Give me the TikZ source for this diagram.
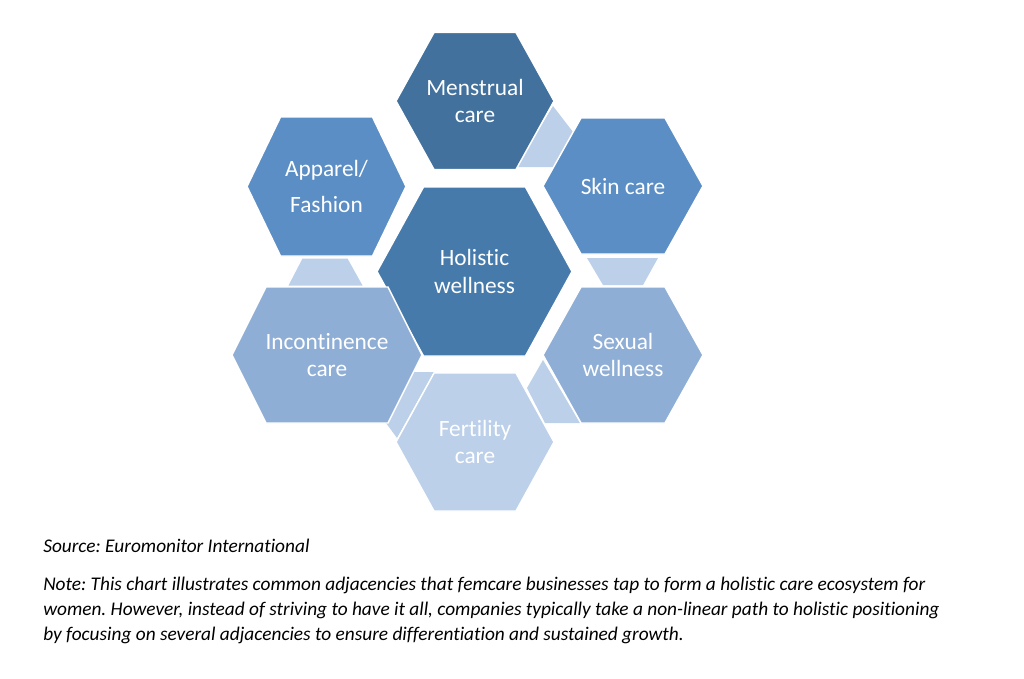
\documentclass[tikz,border=0pt]{standalone}
\usepackage{fontspec}
\setmainfont{Carlito}[Ligatures=NoCommon]
\usepackage{tikz}
\usetikzlibrary{calc,backgrounds}
\frenchspacing
\definecolor{hexdark}{HTML}{41719C}
\definecolor{hexmid}{HTML}{467AAB}
\definecolor{hexblue}{HTML}{5B8EC4}
\definecolor{hexsoft}{HTML}{8EAED6}
\definecolor{hexpale}{HTML}{BCD0EA}
\newcommand{\hexcell}[8]{%
  \fill[#7, draw=white, line width=1.1pt] (#2-#4,#3) -- (#2-#5,#3-#6) -- (#2+#5,#3-#6)
    -- (#2+#4,#3) -- (#2+#5,#3+#6) -- (#2-#5,#3+#6) -- cycle;
  \node[lbl] (#1) at (#2,#3) {#8};}

\begin{document}
\begin{tikzpicture}[x=0.75pt, y=-0.75pt,
  lbl/.style={text=white, align=center, inner sep=0pt,
    font=\fontsize{17.5}{20.5}\selectfont},
  link/.style={fill=hexpale},
  src/.style={anchor=west, inner sep=0pt, font=\fontsize{14.5}{18.75}\selectfont\itshape},
  note/.style={anchor=north west, inner sep=0pt, align=left,
    font=\fontsize{14.5}{18.75}\selectfont\itshape},
]
\useasboundingbox (0,0) rectangle (1024,678);
\hexcell{men}{475}{101}{79}{41}{68.5}{hexdark}{Menstrual\\care}
\hexcell{skin}{623}{186}{80}{42}{68}{hexblue}{Skin care}
\hexcell{app}{326.5}{186.5}{79.5}{46}{69.5}{hexblue}{Apparel/\\[7pt]Fashion}
\hexcell{hol}{474.5}{271.5}{97.5}{51}{84.5}{hexmid}{Holistic\\wellness}
\hexcell{inc}{327}{355}{95}{61}{68}{hexsoft}{Incontinence\\care}
\hexcell{sex}{623}{355}{80}{42}{68}{hexsoft}{Sexual\\wellness}
\hexcell{fer}{475}{442}{79}{41}{69}{hexpale}{Fertility\\care}
\begin{scope}[on background layer]
\fill[link] ($(men)+(78,5)$) -- ($(men)+(98,31)$) -- ($(men)+(80,66)$) -- ($(men)+(41,66)$) -- cycle;
\fill[link] ($(skin)+(-36,72)$) -- ($(skin)+(35,72)$) -- ($(skin)+(20,99)$) -- ($(skin)+(-20,99)$) -- cycle;
\fill[link] ($(app)+(-24,72)$) -- ($(app)+(21,72)$) -- ($(app)+(36,99)$) -- ($(app)+(-38,99)$) -- cycle;
\fill[link] ($(fer)+(-62,-70)$) -- ($(fer)+(-41,-70)$) -- ($(fer)+(-78,-4)$) -- ($(fer)+(-89,-19)$) -- cycle;
\fill[link] ($(sex)+(-80,5)$) -- ($(sex)+(-96,33)$) -- ($(sex)+(-78,68)$) -- ($(sex)+(-43,68)$) -- cycle;
\end{scope}
\node[src] (src) at (43,546) {Source: Euromonitor International};
\node[note] (note) at (43,577) {Note: This chart illustrates common adjacencies that femcare businesses tap to form a holistic care ecosystem for\\
women. However, instead of striving to have it all, companies typically take a non-linear path to holistic positioning\\
by focusing on several adjacencies to ensure differentiation and sustained growth.};
\end{tikzpicture}
\end{document}
